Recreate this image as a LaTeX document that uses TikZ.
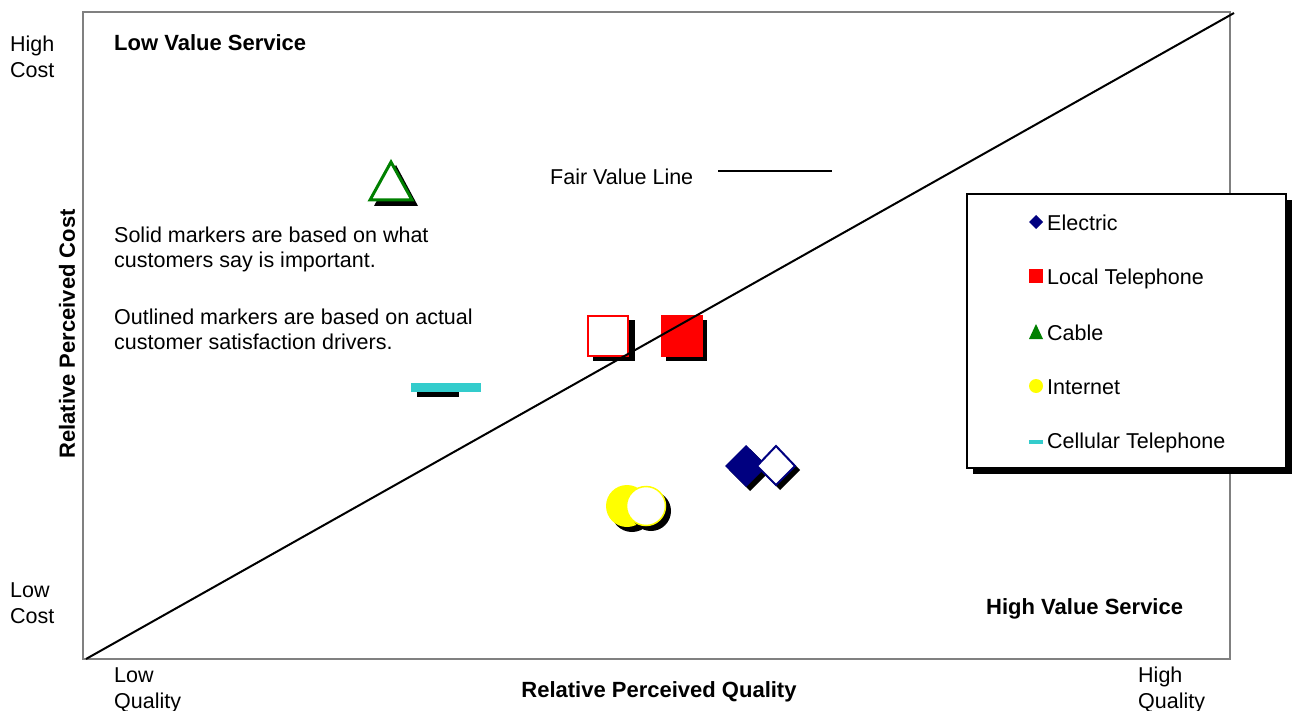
\documentclass[tikz,border=0pt]{standalone}
\usepackage{fontspec}
\setmainfont{Liberation Sans}
\definecolor{elecnavy}{RGB}{0,0,128}
\definecolor{cablegreen}{RGB}{0,128,0}
\definecolor{cellcyan}{RGB}{51,204,204}
\definecolor{netyellow}{RGB}{255,255,0}
\begin{document}
\begin{tikzpicture}[x = 1pt, y = -1pt, font = \fontsize{21.5}{26}\selectfont,
        txt/.style = {anchor = west, align = left, inner sep = 0pt},
        bold/.style = {font = \fontsize{22}{26}\selectfont\bfseries, inner sep = 0pt},
        outline/.style = {line width = 2pt, fill = white}]
        \useasboundingbox (0,0) rectangle (1292,711);
        \draw[line width = 1.5pt, color = gray] (83,12) rectangle (1230,659);

        \fill (374,206) -- (396,165) -- (418,206) -- cycle;
        \draw[outline, line width = 3pt, draw = cablegreen] (370,200) -- (391,162) -- (412,200) -- cycle;

        \fill (417,392) rectangle (459,397);
        \fill[cellcyan] (411,383) rectangle (481,392);

        \fill (593,320) rectangle (635,361);
        \draw[outline, draw = red] (588,316) rectangle (628,356);
        \fill (666,320) rectangle (707,361);
        \fill[red] (661,315) rectangle (703,357);

        \fill (750,449) -- (771,470) -- (750,491) -- (729,470) -- cycle;
        \fill[elecnavy] (746,445) -- (767,466) -- (746,487) -- (725,466) -- cycle;
        \fill (780,450) -- (800,470) -- (780,490) -- (760,470) -- cycle;
        \draw[outline, draw = elecnavy] (776,446) -- (795,466) -- (776,485) -- (757,466) -- cycle;

        \fill (632,511) circle (21);
        \fill[netyellow] (627,506) circle (21);
        \fill (651,511) circle (20);
        \draw[outline, line width = 1.5pt, draw = netyellow] (646,506) circle (19.5);

        \draw[line width = 2pt] (86,659) -- (1234,13);
        \draw[line width = 2pt] (718,171) -- (832,171);

        \fill (973,200) rectangle (1292,474);
        \draw[line width = 1.5pt, fill = white] (967,194) rectangle (1286,468);
        \fill[elecnavy] (1036,215) -- (1043,222) -- (1036,229) -- (1029,222) -- cycle;
        \fill[red] (1029,269) rectangle (1043,283);
        \fill[cablegreen] (1029,339) -- (1036,324) -- (1043,339) -- cycle;
        \fill[netyellow] (1036,386) circle (7);
        \fill[cellcyan] (1029,440) rectangle (1043,444);
        \node[txt] (electric) at (1047,223) {Electric};
        \node[txt] (localtel) at (1047,279) {Local Telephone};
        \node[txt] (cable) at (1047,333) {Cable};
        \node[txt] (internet) at (1047,387) {Internet};
        \node[txt] (celltel) at (1047,443) {Cellular Telephone};

        \node[txt] (highcost) at (10,57) {High\\Cost};
        \node[txt] (lowcost) at (10,603) {Low\\Cost};
        \node[txt] (lowqual) at (114,690) {Low\\Quality};
        \node[txt] (highqual) at (1138,690) {High\\Quality};
        \node[txt] (fairvalue) at (550,177) {Fair Value Line};
        \node[txt, font = \fontsize{21.5}{25}\selectfont] (solidnote) at (114,249)
                {Solid markers are based on what\\customers say is important.};
        \node[txt, font = \fontsize{21.5}{25}\selectfont] (outlinenote) at (114,329)
                {Outlined markers are based on actual\\customer satisfaction drivers.};

        \node[bold, anchor = west] (lowvalue) at (114,43) {Low Value Service};
        \node[bold, anchor = west] (highvalue) at (986,609) {High Value Service};
        \node[bold] (qualaxis) at (659,692) {Relative Perceived Quality};
        \node[bold, rotate = 90] (costaxis) at (67,334) {Relative Perceived Cost};
      \end{tikzpicture}
\end{document}
